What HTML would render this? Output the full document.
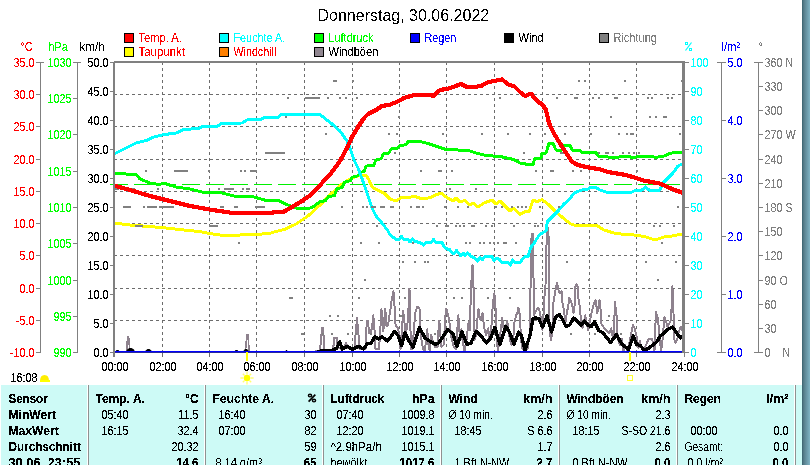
<!DOCTYPE html>
<html><head><meta charset="utf-8"><title>Wetter</title>
<style>
html,body{margin:0;padding:0;background:#fff;overflow:hidden}
body{width:810px;height:465px;font-family:'Liberation Sans', sans-serif}
svg{display:block;font-family:"Liberation Sans", sans-serif}
svg rect, svg line, svg polyline{shape-rendering:crispEdges}
</style></head><body>
<svg width="810" height="465" viewBox="0 0 810 465">
<rect x="0" y="0" width="810" height="465" fill="#ffffff"/>
<defs><clipPath id="plotclip"><rect x="113" y="60" width="572" height="293"/></clipPath><filter id="crisp" filterUnits="userSpaceOnUse" x="0" y="0" width="810" height="465" color-interpolation-filters="sRGB"><feComponentTransfer><feFuncA type="discrete" tableValues="0 0 1 1 1"/></feComponentTransfer></filter><filter id="crisp3" filterUnits="userSpaceOnUse" x="0" y="0" width="810" height="465" color-interpolation-filters="sRGB"><feComponentTransfer><feFuncA type="discrete" tableValues="0 0 0 0 0 0 0 0 0 1 1 1 1 1 1 1 1 1 1 1"/></feComponentTransfer></filter><filter id="crisp2" filterUnits="userSpaceOnUse" x="0" y="0" width="810" height="465" color-interpolation-filters="sRGB"><feComponentTransfer><feFuncA type="discrete" tableValues="0 0 1 1"/></feComponentTransfer></filter><linearGradient id="band" x1="0" x2="1" y1="0" y2="0"><stop offset="0" stop-color="#36606c"/><stop offset="0.14" stop-color="#4f7582"/><stop offset="0.4" stop-color="#608a98"/><stop offset="0.72" stop-color="#70a0b0"/><stop offset="1" stop-color="#80b4c4"/></linearGradient></defs>
<rect x="802" y="0" width="8" height="465" fill="url(#band)"/>
<rect x="124.5" y="33.5" width="9" height="9" fill="#ff0000" stroke="#000" stroke-width="1"/>
<rect x="219.5" y="33.5" width="9" height="9" fill="#00ffff" stroke="#000" stroke-width="1"/>
<rect x="314.5" y="33.5" width="9" height="9" fill="#00ff00" stroke="#000" stroke-width="1"/>
<rect x="410.5" y="33.5" width="9" height="9" fill="#0000ff" stroke="#000" stroke-width="1"/>
<rect x="504.5" y="33.5" width="9" height="9" fill="#000000" stroke="#000" stroke-width="1"/>
<rect x="599.5" y="33.5" width="9" height="9" fill="#808080" stroke="#000" stroke-width="1"/>
<rect x="124.5" y="47.5" width="9" height="9" fill="#ffff00" stroke="#000" stroke-width="1"/>
<rect x="219.5" y="47.5" width="9" height="9" fill="#ff8000" stroke="#000" stroke-width="1"/>
<rect x="314.5" y="47.5" width="9" height="9" fill="#908690" stroke="#000" stroke-width="1"/>
<rect x="40" y="62" width="1" height="291" fill="#808080"/>
<rect x="36" y="62" width="8" height="1" fill="#808080"/>
<rect x="36" y="62" width="4" height="1" fill="#808080"/>
<rect x="36" y="94" width="4" height="1" fill="#808080"/>
<rect x="36" y="126" width="4" height="1" fill="#808080"/>
<rect x="36" y="159" width="4" height="1" fill="#808080"/>
<rect x="36" y="191" width="4" height="1" fill="#808080"/>
<rect x="36" y="223" width="4" height="1" fill="#808080"/>
<rect x="36" y="255" width="4" height="1" fill="#808080"/>
<rect x="36" y="288" width="4" height="1" fill="#808080"/>
<rect x="36" y="320" width="4" height="1" fill="#808080"/>
<rect x="36" y="352" width="4" height="1" fill="#808080"/>
<rect x="77" y="62" width="1" height="291" fill="#808080"/>
<rect x="73" y="62" width="8" height="1" fill="#808080"/>
<rect x="73" y="62" width="4" height="1" fill="#808080"/>
<rect x="73" y="98" width="4" height="1" fill="#808080"/>
<rect x="73" y="134" width="4" height="1" fill="#808080"/>
<rect x="73" y="171" width="4" height="1" fill="#808080"/>
<rect x="73" y="207" width="4" height="1" fill="#808080"/>
<rect x="73" y="243" width="4" height="1" fill="#808080"/>
<rect x="73" y="280" width="4" height="1" fill="#808080"/>
<rect x="73" y="316" width="4" height="1" fill="#808080"/>
<rect x="73" y="352" width="4" height="1" fill="#808080"/>
<rect x="110" y="62" width="4" height="1" fill="#808080"/>
<rect x="110" y="91" width="4" height="1" fill="#808080"/>
<rect x="110" y="120" width="4" height="1" fill="#808080"/>
<rect x="110" y="149" width="4" height="1" fill="#808080"/>
<rect x="110" y="178" width="4" height="1" fill="#808080"/>
<rect x="110" y="207" width="4" height="1" fill="#808080"/>
<rect x="110" y="236" width="4" height="1" fill="#808080"/>
<rect x="110" y="265" width="4" height="1" fill="#808080"/>
<rect x="110" y="294" width="4" height="1" fill="#808080"/>
<rect x="110" y="323" width="4" height="1" fill="#808080"/>
<rect x="110" y="352" width="4" height="1" fill="#808080"/>
<line x1="162.5" y1="63" x2="162.5" y2="357" stroke="#6c6c6c" stroke-width="1" stroke-dasharray="3,3" stroke-dashoffset="1"/>
<line x1="209.5" y1="63" x2="209.5" y2="357" stroke="#6c6c6c" stroke-width="1" stroke-dasharray="3,3" stroke-dashoffset="1"/>
<line x1="256.5" y1="63" x2="256.5" y2="357" stroke="#6c6c6c" stroke-width="1" stroke-dasharray="3,3" stroke-dashoffset="1"/>
<line x1="304.5" y1="63" x2="304.5" y2="357" stroke="#6c6c6c" stroke-width="1" stroke-dasharray="3,3" stroke-dashoffset="1"/>
<line x1="352.5" y1="63" x2="352.5" y2="357" stroke="#6c6c6c" stroke-width="1" stroke-dasharray="3,3" stroke-dashoffset="1"/>
<line x1="399.5" y1="63" x2="399.5" y2="357" stroke="#6c6c6c" stroke-width="1" stroke-dasharray="3,3" stroke-dashoffset="1"/>
<line x1="446.5" y1="63" x2="446.5" y2="357" stroke="#6c6c6c" stroke-width="1" stroke-dasharray="3,3" stroke-dashoffset="1"/>
<line x1="494.5" y1="63" x2="494.5" y2="357" stroke="#6c6c6c" stroke-width="1" stroke-dasharray="3,3" stroke-dashoffset="1"/>
<line x1="542.5" y1="63" x2="542.5" y2="357" stroke="#6c6c6c" stroke-width="1" stroke-dasharray="3,3" stroke-dashoffset="1"/>
<line x1="589.5" y1="63" x2="589.5" y2="357" stroke="#6c6c6c" stroke-width="1" stroke-dasharray="3,3" stroke-dashoffset="1"/>
<line x1="636.5" y1="63" x2="636.5" y2="357" stroke="#6c6c6c" stroke-width="1" stroke-dasharray="3,3" stroke-dashoffset="1"/>
<line x1="114" y1="94.5" x2="682" y2="94.5" stroke="#6c6c6c" stroke-width="1" stroke-dasharray="3,3"/>
<line x1="114" y1="126.5" x2="682" y2="126.5" stroke="#6c6c6c" stroke-width="1" stroke-dasharray="3,3"/>
<line x1="114" y1="159.5" x2="682" y2="159.5" stroke="#6c6c6c" stroke-width="1" stroke-dasharray="3,3"/>
<line x1="114" y1="191.5" x2="682" y2="191.5" stroke="#6c6c6c" stroke-width="1" stroke-dasharray="3,3"/>
<line x1="114" y1="223.5" x2="682" y2="223.5" stroke="#6c6c6c" stroke-width="1" stroke-dasharray="3,3"/>
<line x1="114" y1="255.5" x2="682" y2="255.5" stroke="#6c6c6c" stroke-width="1" stroke-dasharray="3,3"/>
<line x1="114" y1="288.5" x2="682" y2="288.5" stroke="#6c6c6c" stroke-width="1" stroke-dasharray="3,3"/>
<line x1="114" y1="320.5" x2="682" y2="320.5" stroke="#6c6c6c" stroke-width="1" stroke-dasharray="3,3"/>
<line x1="110" y1="184.5" x2="682" y2="184.5" stroke="#00f000" stroke-width="1" stroke-dasharray="18,6"/>
<polyline clip-path="url(#plotclip)" points="126.5,351.0 127.0,345.0 127.7,337.0 128.6,337.0 129.3,345.0 130.0,351.0" fill="none" stroke="#8e828e" stroke-width="1.6" stroke-linejoin="miter"/>
<polyline clip-path="url(#plotclip)" points="245.5,351.0 246.0,344.0 247.0,334.5 248.0,334.5 248.6,344.0 249.3,351.0" fill="none" stroke="#8e828e" stroke-width="1.6" stroke-linejoin="miter"/>
<polyline clip-path="url(#plotclip)" points="315.0,351.0 320.0,350.5 321.0,340.0 322.0,327.6 323.0,327.6 323.8,340.0 324.4,350.5 331.0,350.0 333.3,349.0 334.0,337.5 337.0,337.5 337.6,348.0 342.0,349.0 344.0,347.0 346.0,343.0 348.0,348.0 352.0,349.0 354.5,349.0 355.5,335.0 357.0,318.2 358.5,335.0 359.5,349.0 363.0,349.0 365.5,349.0 366.8,321.0 368.0,321.0 369.0,333.0 370.5,333.0 372.0,328.0 373.3,315.4 374.5,330.0 375.5,349.0 379.0,349.0 380.0,335.0 381.4,309.3 382.5,320.0 383.3,331.0 384.3,320.0 385.3,308.5 386.4,325.5 388.0,325.5 389.0,318.0 390.3,311.0 391.5,301.0 393.5,291.4 394.8,309.8 395.6,325.5 398.2,327.7 399.5,340.0 400.5,349.0 401.5,335.0 403.2,310.7 404.6,324.0 406.0,335.0 407.0,325.0 408.0,321.0 408.8,300.0 409.4,288.8 410.2,300.0 410.7,349.0 412.5,349.0 413.5,335.0 414.7,320.0 415.5,312.0 417.2,307.0 419.0,307.5 420.0,311.0 420.5,327.7 421.5,340.0 423.0,349.0 425.0,351.0 426.0,340.0 427.2,329.4 428.5,345.0 429.7,351.0 431.0,334.6 433.0,342.0 435.0,347.0 437.5,347.0 438.5,330.0 439.3,320.5 440.3,335.0 441.5,347.0 443.5,345.0 444.6,330.0 445.5,315.0 446.3,308.5 447.3,312.0 448.5,316.6 450.0,326.6 451.5,338.0 453.5,346.0 456.0,349.0 457.0,335.0 458.3,315.4 459.3,330.0 460.0,338.0 461.4,328.9 462.5,340.0 464.5,351.0 466.5,340.0 468.6,322.0 469.8,330.0 470.6,302.0 471.5,280.0 472.5,264.6 473.4,285.0 474.2,302.0 474.6,340.0 476.0,335.0 477.3,320.0 478.5,309.3 479.5,316.0 480.5,320.0 481.6,316.0 482.6,313.4 483.5,322.0 484.3,327.7 486.0,335.0 488.2,328.3 489.5,338.0 491.0,335.0 492.0,315.0 493.3,300.0 494.4,293.3 495.3,305.0 496.0,315.0 496.8,340.0 498.0,351.0 499.5,340.0 501.0,328.0 502.2,317.5 503.5,328.0 505.0,332.0 506.0,326.0 507.2,320.5 508.5,330.0 510.0,340.0 511.5,345.0 513.5,335.0 514.5,322.0 516.0,316.0 517.5,312.0 518.4,307.6 519.3,312.0 520.0,316.6 521.0,340.0 522.5,349.0 525.0,351.0 527.5,349.0 529.5,335.0 530.3,300.0 531.2,250.0 531.6,234.0 533.0,234.0 533.4,250.0 533.6,300.0 534.0,315.0 536.5,310.0 538.0,307.6 540.0,312.0 541.3,322.0 542.4,330.0 543.3,320.0 544.1,300.0 545.5,285.0 546.2,256.0 547.0,228.0 548.4,228.0 548.8,256.0 549.0,318.8 550.8,340.0 552.0,335.0 553.5,302.0 555.5,289.7 557.0,283.0 559.0,292.0 560.5,293.0 561.5,291.4 562.6,304.0 564.0,310.0 565.0,320.0 566.0,321.0 567.0,310.0 568.0,308.7 569.3,298.0 572.0,304.0 573.5,313.0 574.6,305.0 575.2,287.0 576.5,284.5 577.8,287.0 578.3,298.0 579.5,305.0 581.0,320.0 582.5,327.7 584.0,322.0 585.2,315.4 586.5,322.0 588.0,330.0 590.0,320.0 592.0,311.0 594.0,303.0 595.6,300.3 597.3,313.0 599.5,300.3 601.0,313.0 601.5,324.4 605.0,329.0 609.0,333.3 610.0,332.0 611.2,328.3 612.3,335.0 613.5,338.0 614.3,320.0 615.1,302.2 616.0,312.0 617.0,318.8 617.7,339.0 620.0,345.0 622.0,339.0 623.5,351.0 625.0,345.0 627.4,351.0 629.0,345.0 630.5,337.0 632.0,329.0 633.0,325.3 634.5,327.7 636.5,336.0 637.5,344.0 638.5,348.0 639.7,341.0 641.0,346.0 643.0,351.0 646.0,345.0 648.7,338.5 652.0,338.5 653.5,345.0 654.5,351.0 655.2,330.0 656.0,312.3 657.0,316.0 658.0,318.8 659.5,336.0 661.0,351.0 662.0,345.0 663.0,335.0 664.4,317.1 666.0,321.0 667.5,326.6 669.5,323.0 671.0,320.0 671.8,303.0 672.4,286.4 673.0,300.0 673.5,313.0 674.0,338.0 675.5,343.0 677.0,340.0 678.5,333.0 680.6,326.6 682.0,330.0 683.0,328.0" fill="none" stroke="#8e828e" stroke-width="2" stroke-linejoin="round"/>
<polyline clip-path="url(#plotclip)" points="114.0,223.0 130.0,225.0 150.0,226.6 162.0,227.6 180.0,229.6 200.0,231.6 210.0,233.6 220.0,235.0 240.0,235.0 250.0,234.6 270.0,233.6 272.0,232.5 284.0,229.6 296.0,224.0 308.0,216.0 320.0,205.0 332.0,193.0 342.0,184.0 350.0,179.0 360.0,175.0 366.0,175.0 369.0,180.0 372.0,187.0 378.0,190.4 384.0,193.0 390.0,199.0 396.0,201.0 402.0,197.0 408.0,198.0 414.0,196.0 422.0,199.0 430.0,197.6 434.0,195.6 441.0,193.0 446.0,197.0 453.0,201.0 456.0,198.0 460.0,202.0 465.0,200.4 470.0,205.0 473.0,203.0 478.0,207.0 484.0,203.0 492.0,200.0 496.0,204.0 500.0,201.0 510.0,211.0 513.0,208.0 520.0,214.4 526.0,211.0 529.0,212.0 533.0,200.0 537.0,201.6 542.0,199.6 548.0,204.0 554.0,210.0 562.0,217.0 570.0,223.6 574.0,225.0 596.0,225.0 604.0,230.0 616.0,233.6 634.0,235.0 644.0,236.4 652.0,239.0 658.0,239.0 664.0,237.0 672.0,236.0 680.0,234.4 683.0,235.4" fill="none" stroke="#ffff00" stroke-width="3" stroke-linejoin="round"/>
<polyline clip-path="url(#plotclip)" points="114.0,173.4 136.0,174.5 140.0,179.0 150.0,183.0 158.0,184.4 165.0,183.6 176.0,187.0 190.0,189.0 202.0,192.0 222.0,193.0 234.0,196.0 254.0,197.0 266.0,200.4 278.0,200.0 282.0,202.4 288.0,205.0 296.0,208.0 310.0,208.0 314.0,206.4 319.4,202.0 325.6,200.5 328.4,196.4 334.6,195.7 336.6,188.8 342.1,187.5 344.9,182.0 350.4,180.6 352.5,177.1 358.0,175.8 360.0,172.3 364.1,171.6 366.2,166.1 373.8,165.4 375.8,160.0 381.3,158.6 383.4,153.8 388.9,153.0 391.0,149.0 397.2,148.3 399.9,145.5 406.1,144.8 408.2,141.6 420.0,141.6 428.0,143.4 434.0,145.5 446.0,149.5 468.0,150.4 474.0,152.4 486.0,155.6 500.0,156.4 514.0,159.6 520.0,163.0 525.0,163.0 526.0,164.5 533.0,164.5 535.0,158.0 541.0,158.0 542.0,153.0 546.0,153.0 549.0,143.5 553.0,143.5 556.0,150.0 562.0,150.0 563.6,145.3 570.0,145.3 572.0,150.0 579.4,150.0 581.4,152.0 595.7,152.0 598.0,156.0 608.0,157.0 618.0,157.4 622.0,156.0 628.0,156.0 632.0,157.6 636.0,157.0 642.0,156.0 652.0,156.6 656.0,157.4 664.0,156.0 670.0,153.4 676.0,152.4 683.0,152.0" fill="none" stroke="#00ff00" stroke-width="3" stroke-linejoin="round"/>
<polyline clip-path="url(#plotclip)" points="114.0,154.0 118.0,152.0 122.0,150.0 128.0,147.0 136.0,143.0 146.0,140.6 154.0,137.0 164.0,134.6 176.0,133.0 184.0,129.4 198.0,128.6 202.0,126.6 218.0,126.0 221.0,123.6 242.0,123.0 247.0,120.0 260.0,119.6 264.0,117.6 278.0,117.6 281.0,114.6 320.0,114.6 332.0,124.0 340.0,131.0 347.0,141.0 350.0,148.0 354.0,160.0 358.0,168.0 364.0,184.0 368.0,196.0 372.0,208.0 376.0,216.0 382.0,223.0 385.0,227.0 388.0,231.0 390.0,235.0 393.0,237.0 396.0,239.5 399.0,239.5 401.5,236.5 403.5,239.0 408.0,239.5 410.0,242.0 412.5,239.0 415.0,241.5 420.0,242.5 423.5,245.0 426.0,242.5 431.0,242.5 433.5,239.5 436.0,242.5 442.0,242.5 444.5,247.0 447.0,249.0 449.0,249.0 451.5,252.0 454.0,254.0 456.5,250.5 459.0,253.5 461.0,256.0 463.0,253.0 465.0,255.5 467.5,253.0 469.0,254.0 471.0,256.5 471.0,256.5 474.0,257.5 476.0,259.0 477.5,261.0 480.0,257.0 482.0,260.0 485.0,256.5 492.0,256.5 494.0,261.0 496.0,258.5 499.0,259.0 502.0,262.5 508.0,262.5 510.5,265.0 512.5,260.0 515.0,262.5 520.0,262.5 522.0,260.0 524.0,257.0 528.0,256.5 530.0,250.0 532.0,245.5 534.0,243.5 536.0,240.0 538.0,237.0 540.0,234.5 543.0,232.5 546.0,231.0 547.4,221.5 551.0,218.0 558.5,210.5 564.0,204.0 569.6,199.3 574.3,192.8 579.0,191.0 582.0,190.0 588.0,189.0 591.0,187.0 596.0,187.6 600.0,190.0 606.0,192.0 632.0,192.0 636.0,190.0 642.0,190.0 645.6,187.0 649.0,190.0 660.0,190.0 663.0,183.0 668.0,178.0 673.0,173.0 678.0,166.0 682.0,164.0" fill="none" stroke="#00ffff" stroke-width="3" stroke-linejoin="round"/>
<rect x="333" y="80" width="4" height="2" fill="#808080"/>
<rect x="352" y="80" width="2" height="2" fill="#808080"/>
<rect x="578" y="80" width="2" height="2" fill="#808080"/>
<rect x="584" y="80" width="2" height="2" fill="#808080"/>
<rect x="624" y="80" width="2" height="2" fill="#808080"/>
<rect x="681" y="80" width="2" height="2" fill="#808080"/>
<rect x="287" y="97" width="2" height="2" fill="#808080"/>
<rect x="305" y="97" width="15" height="2" fill="#808080"/>
<rect x="327" y="97" width="2" height="2" fill="#808080"/>
<rect x="339" y="97" width="2" height="2" fill="#808080"/>
<rect x="345" y="97" width="2" height="2" fill="#808080"/>
<rect x="356" y="97" width="2" height="2" fill="#808080"/>
<rect x="499" y="97" width="2" height="2" fill="#808080"/>
<rect x="556" y="97" width="2" height="2" fill="#808080"/>
<rect x="574" y="97" width="4" height="2" fill="#808080"/>
<rect x="592" y="97" width="2" height="2" fill="#808080"/>
<rect x="598" y="97" width="2" height="2" fill="#808080"/>
<rect x="614" y="97" width="4" height="2" fill="#808080"/>
<rect x="647" y="97" width="2" height="2" fill="#808080"/>
<rect x="651" y="97" width="2" height="2" fill="#808080"/>
<rect x="667" y="97" width="2" height="2" fill="#808080"/>
<rect x="671" y="97" width="2" height="2" fill="#808080"/>
<rect x="285" y="116" width="2" height="2" fill="#808080"/>
<rect x="398" y="116" width="2" height="2" fill="#808080"/>
<rect x="610" y="116" width="2" height="2" fill="#808080"/>
<rect x="649" y="116" width="2" height="2" fill="#808080"/>
<rect x="655" y="116" width="2" height="2" fill="#808080"/>
<rect x="663" y="116" width="4" height="2" fill="#808080"/>
<rect x="325" y="133" width="2" height="2" fill="#808080"/>
<rect x="388" y="133" width="2" height="2" fill="#808080"/>
<rect x="396" y="133" width="2" height="2" fill="#808080"/>
<rect x="442" y="133" width="2" height="2" fill="#808080"/>
<rect x="481" y="133" width="2" height="2" fill="#808080"/>
<rect x="507" y="133" width="2" height="2" fill="#808080"/>
<rect x="529" y="133" width="2" height="2" fill="#808080"/>
<rect x="544" y="133" width="2" height="2" fill="#808080"/>
<rect x="564" y="133" width="2" height="2" fill="#808080"/>
<rect x="590" y="133" width="2" height="2" fill="#808080"/>
<rect x="618" y="133" width="2" height="2" fill="#808080"/>
<rect x="626" y="133" width="2" height="2" fill="#808080"/>
<rect x="630" y="133" width="4" height="2" fill="#808080"/>
<rect x="679" y="133" width="2" height="2" fill="#808080"/>
<rect x="265" y="152" width="20" height="2" fill="#808080"/>
<rect x="394" y="152" width="2" height="2" fill="#808080"/>
<rect x="523" y="152" width="2" height="2" fill="#808080"/>
<rect x="560" y="152" width="4" height="2" fill="#808080"/>
<rect x="598" y="152" width="2" height="2" fill="#808080"/>
<rect x="605" y="152" width="4" height="2" fill="#808080"/>
<rect x="612" y="152" width="2" height="2" fill="#808080"/>
<rect x="622" y="152" width="2" height="2" fill="#808080"/>
<rect x="628" y="152" width="2" height="2" fill="#808080"/>
<rect x="633" y="152" width="2" height="2" fill="#808080"/>
<rect x="638" y="152" width="2" height="2" fill="#808080"/>
<rect x="145" y="170" width="2" height="2" fill="#808080"/>
<rect x="174" y="170" width="14" height="2" fill="#808080"/>
<rect x="208" y="170" width="2" height="2" fill="#808080"/>
<rect x="240" y="170" width="2" height="2" fill="#808080"/>
<rect x="244" y="170" width="2" height="2" fill="#808080"/>
<rect x="250" y="170" width="7" height="2" fill="#808080"/>
<rect x="420" y="170" width="2" height="2" fill="#808080"/>
<rect x="438" y="170" width="4" height="2" fill="#808080"/>
<rect x="451" y="170" width="2" height="2" fill="#808080"/>
<rect x="535" y="170" width="2" height="2" fill="#808080"/>
<rect x="550" y="170" width="4" height="2" fill="#808080"/>
<rect x="572" y="170" width="2" height="2" fill="#808080"/>
<rect x="580" y="170" width="2" height="2" fill="#808080"/>
<rect x="636" y="170" width="2" height="2" fill="#808080"/>
<rect x="115" y="188" width="4" height="2" fill="#808080"/>
<rect x="131" y="188" width="4" height="2" fill="#808080"/>
<rect x="157" y="188" width="2" height="2" fill="#808080"/>
<rect x="218" y="188" width="2" height="2" fill="#808080"/>
<rect x="224" y="188" width="10" height="2" fill="#808080"/>
<rect x="242" y="188" width="2" height="2" fill="#808080"/>
<rect x="246" y="188" width="4" height="2" fill="#808080"/>
<rect x="449" y="188" width="2" height="2" fill="#808080"/>
<rect x="475" y="188" width="2" height="2" fill="#808080"/>
<rect x="123" y="206" width="8" height="2" fill="#808080"/>
<rect x="143" y="206" width="2" height="2" fill="#808080"/>
<rect x="147" y="206" width="10" height="2" fill="#808080"/>
<rect x="159" y="206" width="15" height="2" fill="#808080"/>
<rect x="220" y="206" width="4" height="2" fill="#808080"/>
<rect x="234" y="206" width="4" height="2" fill="#808080"/>
<rect x="255" y="206" width="10" height="2" fill="#808080"/>
<rect x="341" y="206" width="2" height="2" fill="#808080"/>
<rect x="362" y="206" width="2" height="2" fill="#808080"/>
<rect x="366" y="206" width="2" height="2" fill="#808080"/>
<rect x="371" y="206" width="5" height="2" fill="#808080"/>
<rect x="380" y="206" width="5" height="2" fill="#808080"/>
<rect x="390" y="206" width="4" height="2" fill="#808080"/>
<rect x="410" y="206" width="2" height="2" fill="#808080"/>
<rect x="416" y="206" width="4" height="2" fill="#808080"/>
<rect x="422" y="206" width="2" height="2" fill="#808080"/>
<rect x="444" y="206" width="2" height="2" fill="#808080"/>
<rect x="457" y="206" width="2" height="2" fill="#808080"/>
<rect x="467" y="206" width="2" height="2" fill="#808080"/>
<rect x="495" y="206" width="2" height="2" fill="#808080"/>
<rect x="501" y="206" width="2" height="2" fill="#808080"/>
<rect x="511" y="206" width="2" height="2" fill="#808080"/>
<rect x="517" y="206" width="2" height="2" fill="#808080"/>
<rect x="521" y="206" width="2" height="2" fill="#808080"/>
<rect x="525" y="206" width="2" height="2" fill="#808080"/>
<rect x="539" y="206" width="2" height="2" fill="#808080"/>
<rect x="558" y="206" width="2" height="2" fill="#808080"/>
<rect x="677" y="206" width="2" height="2" fill="#808080"/>
<rect x="135" y="225" width="8" height="2" fill="#808080"/>
<rect x="209" y="225" width="9" height="2" fill="#808080"/>
<rect x="376" y="225" width="2" height="2" fill="#808080"/>
<rect x="436" y="225" width="2" height="2" fill="#808080"/>
<rect x="445" y="225" width="4" height="2" fill="#808080"/>
<rect x="455" y="225" width="2" height="2" fill="#808080"/>
<rect x="459" y="225" width="2" height="2" fill="#808080"/>
<rect x="463" y="225" width="2" height="2" fill="#808080"/>
<rect x="471" y="225" width="4" height="2" fill="#808080"/>
<rect x="485" y="225" width="2" height="2" fill="#808080"/>
<rect x="491" y="225" width="2" height="2" fill="#808080"/>
<rect x="513" y="225" width="2" height="2" fill="#808080"/>
<rect x="534" y="225" width="2" height="2" fill="#808080"/>
<rect x="537" y="225" width="2" height="2" fill="#808080"/>
<rect x="653" y="225" width="2" height="2" fill="#808080"/>
<rect x="659" y="225" width="2" height="2" fill="#808080"/>
<rect x="673" y="225" width="2" height="2" fill="#808080"/>
<rect x="238" y="242" width="2" height="2" fill="#808080"/>
<rect x="360" y="242" width="2" height="2" fill="#808080"/>
<rect x="378" y="242" width="2" height="2" fill="#808080"/>
<rect x="412" y="242" width="2" height="2" fill="#808080"/>
<rect x="465" y="242" width="2" height="2" fill="#808080"/>
<rect x="469" y="242" width="2" height="2" fill="#808080"/>
<rect x="479" y="242" width="2" height="2" fill="#808080"/>
<rect x="483" y="242" width="2" height="2" fill="#808080"/>
<rect x="489" y="242" width="2" height="2" fill="#808080"/>
<rect x="493" y="242" width="2" height="2" fill="#808080"/>
<rect x="497" y="242" width="2" height="2" fill="#808080"/>
<rect x="503" y="242" width="4" height="2" fill="#808080"/>
<rect x="515" y="242" width="2" height="2" fill="#808080"/>
<rect x="541" y="242" width="2" height="2" fill="#808080"/>
<rect x="661" y="242" width="2" height="2" fill="#808080"/>
<rect x="402" y="261" width="2" height="2" fill="#808080"/>
<rect x="414" y="261" width="2" height="2" fill="#808080"/>
<rect x="424" y="261" width="2" height="2" fill="#808080"/>
<rect x="427" y="261" width="2" height="2" fill="#808080"/>
<rect x="566" y="261" width="2" height="2" fill="#808080"/>
<rect x="645" y="261" width="2" height="2" fill="#808080"/>
<rect x="675" y="261" width="2" height="2" fill="#808080"/>
<rect x="364" y="279" width="2" height="2" fill="#808080"/>
<rect x="588" y="279" width="2" height="2" fill="#808080"/>
<rect x="657" y="279" width="2" height="2" fill="#808080"/>
<rect x="289" y="297" width="4" height="2" fill="#808080"/>
<rect x="358" y="297" width="2" height="2" fill="#808080"/>
<rect x="404" y="297" width="2" height="2" fill="#808080"/>
<rect x="453" y="297" width="2" height="2" fill="#808080"/>
<rect x="461" y="297" width="2" height="2" fill="#808080"/>
<rect x="487" y="297" width="2" height="2" fill="#808080"/>
<rect x="509" y="297" width="2" height="2" fill="#808080"/>
<rect x="329" y="315" width="2" height="2" fill="#808080"/>
<rect x="337" y="315" width="2" height="2" fill="#808080"/>
<rect x="400" y="315" width="4" height="2" fill="#808080"/>
<rect x="608" y="315" width="2" height="2" fill="#808080"/>
<rect x="301" y="333" width="3" height="2" fill="#808080"/>
<rect x="322" y="333" width="2" height="2" fill="#808080"/>
<rect x="331" y="333" width="2" height="2" fill="#808080"/>
<rect x="347" y="333" width="2" height="2" fill="#808080"/>
<rect x="355" y="333" width="2" height="2" fill="#808080"/>
<rect x="370" y="333" width="2" height="2" fill="#808080"/>
<rect x="434" y="333" width="2" height="2" fill="#808080"/>
<rect x="570" y="333" width="2" height="2" fill="#808080"/>
<rect x="594" y="333" width="2" height="2" fill="#808080"/>
<rect x="620" y="333" width="2" height="2" fill="#808080"/>
<polyline clip-path="url(#plotclip)" points="114.0,185.5 130.0,190.0 150.0,196.0 170.0,201.0 190.0,206.0 210.0,209.6 230.0,212.6 272.0,212.6 284.0,211.6 292.0,207.0 302.0,201.0 312.0,194.0 322.0,183.0 332.0,172.0 340.0,161.0 347.0,148.0 352.0,137.0 358.0,127.0 364.0,118.0 368.0,114.0 376.0,110.0 382.0,106.0 390.0,104.6 398.0,101.4 404.0,98.0 412.0,95.6 416.0,95.0 434.0,95.5 440.0,90.0 448.0,88.6 454.0,86.6 461.0,84.0 468.0,87.4 474.0,87.0 481.0,86.0 487.0,82.6 494.0,81.0 502.0,79.4 509.0,85.0 514.0,86.0 520.0,92.0 525.0,96.0 531.0,93.6 538.0,102.0 542.0,104.0 546.0,110.0 549.0,123.0 553.7,133.0 559.6,142.8 564.6,150.7 568.5,156.7 571.5,161.0 575.4,164.0 581.4,166.0 589.3,167.6 600.0,169.3 608.0,172.0 626.0,175.0 636.0,178.0 644.0,180.6 660.0,183.6 672.0,189.0 683.0,193.0" fill="none" stroke="#ff0000" stroke-width="4.2" stroke-linejoin="round"/>
<polyline clip-path="url(#plotclip)" points="315.0,352.4 320.0,352.0 321.5,350.3 332.0,350.2 336.5,348.5 339.7,341.8 342.3,349.0 347.4,346.3 352.6,349.5 358.4,346.3 363.5,349.0 367.4,343.7 370.6,343.7 375.0,336.6 378.4,339.0 382.0,337.0 387.4,341.0 390.6,337.0 394.5,331.5 398.4,336.0 401.6,345.7 405.0,332.7 409.0,341.0 413.0,347.0 419.4,327.5 425.0,338.0 434.8,344.3 438.7,343.0 447.7,329.5 453.0,334.0 456.8,346.3 462.0,332.0 467.0,344.3 471.0,343.0 476.0,331.4 480.6,335.3 486.5,343.0 490.3,339.0 494.8,327.5 500.0,344.3 505.8,326.3 509.7,332.7 514.0,344.3 518.7,332.0 521.3,335.3 525.0,350.0 529.7,336.6 533.0,319.0 535.5,317.9 538.7,318.5 542.6,327.0 547.0,316.0 551.6,332.0 555.5,317.0 559.4,314.6 562.0,318.5 565.8,326.3 569.7,325.0 573.5,318.0 577.4,321.0 581.3,325.0 584.5,321.0 588.4,325.6 591.6,326.3 594.5,321.7 599.0,330.8 603.0,332.7 606.8,337.9 610.6,342.4 616.5,334.6 620.3,341.7 623.5,345.6 628.7,349.5 633.2,336.0 636.5,344.3 640.3,345.6 644.2,350.0 648.0,348.8 654.5,343.7 657.0,341.7 660.3,336.0 664.2,332.7 667.4,329.5 672.6,327.0 676.5,332.7 680.3,337.9 683.0,336.0" fill="none" stroke="#000000" stroke-width="3.4" stroke-linejoin="round" stroke-linecap="round"/>
<path d="M115,352 L116,350.8 L116.5,350 L118.5,350 L119,350.8 L120,352 Z" fill="#000"/>
<path d="M126,352 L127,349.6 L129.5,348 L131.5,348 L134,349.6 L135,352 Z" fill="#000"/>
<path d="M145,352 L146,350.2 L147.5,349 L149.5,349 L151,350.2 L152,352 Z" fill="#000"/>
<path d="M234,352 L235,350.8 L235.5,350 L237.5,350 L238,350.8 L239,352 Z" fill="#000"/>
<path d="M243,352 L244,350.2 L245.0,349 L247.0,349 L248,350.2 L249,352 Z" fill="#000"/>
<path d="M285,352 L286,350.8 L285.5,350 L287.5,350 L287,350.8 L288,352 Z" fill="#000"/>
<rect x="114" y="61" width="571" height="2" fill="#808080"/>
<rect x="113" y="62" width="2" height="295" fill="#808080"/>
<rect x="682" y="61" width="3" height="292" fill="#808080"/>
<rect x="110" y="352" width="575" height="1" fill="#808080"/>
<rect x="115" y="351" width="567" height="1" fill="#0000ff"/>
<rect x="115" y="352" width="567" height="1" fill="#28289c"/>
<rect x="162" y="353" width="1" height="4" fill="#6c6c6c"/>
<rect x="209" y="353" width="1" height="4" fill="#6c6c6c"/>
<rect x="256" y="353" width="1" height="4" fill="#6c6c6c"/>
<rect x="304" y="353" width="1" height="4" fill="#6c6c6c"/>
<rect x="352" y="353" width="1" height="4" fill="#6c6c6c"/>
<rect x="399" y="353" width="1" height="4" fill="#6c6c6c"/>
<rect x="446" y="353" width="1" height="4" fill="#6c6c6c"/>
<rect x="494" y="353" width="1" height="4" fill="#6c6c6c"/>
<rect x="542" y="353" width="1" height="4" fill="#6c6c6c"/>
<rect x="589" y="353" width="1" height="4" fill="#6c6c6c"/>
<rect x="636" y="353" width="1" height="4" fill="#6c6c6c"/>
<rect x="246" y="352" width="2" height="9" fill="#ffff00"/>
<rect x="629" y="352" width="2" height="9" fill="#ffff00"/>
<rect x="684" y="353" width="1" height="4" fill="#808080"/>
<rect x="685" y="62" width="4" height="1" fill="#808080"/>
<rect x="685" y="91" width="4" height="1" fill="#808080"/>
<rect x="685" y="120" width="4" height="1" fill="#808080"/>
<rect x="685" y="149" width="4" height="1" fill="#808080"/>
<rect x="685" y="178" width="4" height="1" fill="#808080"/>
<rect x="685" y="207" width="4" height="1" fill="#808080"/>
<rect x="685" y="236" width="4" height="1" fill="#808080"/>
<rect x="685" y="265" width="4" height="1" fill="#808080"/>
<rect x="685" y="294" width="4" height="1" fill="#808080"/>
<rect x="685" y="323" width="4" height="1" fill="#808080"/>
<rect x="685" y="352" width="4" height="1" fill="#808080"/>
<g fill="none" stroke="#00ffff" stroke-width="1" shape-rendering="crispEdges"><rect x="685.5" y="42.5" width="2" height="2"/><rect x="689.5" y="48.5" width="2" height="2"/></g><path d="M691.5,42.5 L685.5,50.5" stroke="#00ffff" stroke-width="1.2" fill="none"/>
<rect x="721" y="62" width="1" height="291" fill="#808080"/>
<rect x="717" y="62" width="9" height="1" fill="#808080"/>
<rect x="721" y="62" width="5" height="1" fill="#808080"/>
<rect x="721" y="120" width="5" height="1" fill="#808080"/>
<rect x="721" y="178" width="5" height="1" fill="#808080"/>
<rect x="721" y="236" width="5" height="1" fill="#808080"/>
<rect x="721" y="294" width="5" height="1" fill="#808080"/>
<rect x="721" y="352" width="5" height="1" fill="#808080"/>
<rect x="758" y="62" width="1" height="291" fill="#808080"/>
<rect x="754" y="62" width="9" height="1" fill="#808080"/>
<rect x="758" y="62" width="5" height="1" fill="#808080"/>
<rect x="758" y="86" width="5" height="1" fill="#808080"/>
<rect x="758" y="110" width="5" height="1" fill="#808080"/>
<rect x="758" y="134" width="5" height="1" fill="#808080"/>
<rect x="758" y="159" width="5" height="1" fill="#808080"/>
<rect x="758" y="183" width="5" height="1" fill="#808080"/>
<rect x="758" y="207" width="5" height="1" fill="#808080"/>
<rect x="758" y="231" width="5" height="1" fill="#808080"/>
<rect x="758" y="255" width="5" height="1" fill="#808080"/>
<rect x="758" y="280" width="5" height="1" fill="#808080"/>
<rect x="758" y="304" width="5" height="1" fill="#808080"/>
<rect x="758" y="328" width="5" height="1" fill="#808080"/>
<rect x="758" y="352" width="5" height="1" fill="#808080"/>
<rect x="754" y="352" width="9" height="1" fill="#808080"/>
<rect x="717" y="352" width="9" height="1" fill="#808080"/>
<path d="M250.5,378.0L253.6,378.0M249.5,380.5L251.2,382.2M247.0,381.5L247.0,384.6M244.5,380.5L242.8,382.2M243.5,378.0L240.4,378.0M244.5,375.5L242.8,373.8M247.0,374.5L247.0,371.4M249.5,375.5L251.2,373.8" stroke="#ffff70" stroke-width="1.3" fill="none"/><circle cx="247" cy="378" r="3.2" fill="#ffff00"/>
<rect x="627.5" y="375.5" width="5" height="5" fill="none" stroke="#ffff30" stroke-width="1"/>
<path d="M40,381 Q40,375 44.5,375 Q49,375 49,381 Z" fill="#ffee00"/><rect x="40" y="380" width="10" height="1.5" fill="#ffff00"/>
<rect x="1" y="385" width="801" height="80" fill="#cdfaf6"/>
<rect x="88" y="385" width="1" height="80" fill="#909090"/>
<rect x="87" y="385" width="1" height="80" fill="#ffffff"/>
<rect x="205" y="385" width="1" height="80" fill="#909090"/>
<rect x="204" y="385" width="1" height="80" fill="#ffffff"/>
<rect x="323" y="385" width="1" height="80" fill="#909090"/>
<rect x="322" y="385" width="1" height="80" fill="#ffffff"/>
<rect x="441" y="385" width="1" height="80" fill="#909090"/>
<rect x="440" y="385" width="1" height="80" fill="#ffffff"/>
<rect x="559" y="385" width="1" height="80" fill="#909090"/>
<rect x="558" y="385" width="1" height="80" fill="#ffffff"/>
<rect x="677" y="385" width="1" height="80" fill="#909090"/>
<rect x="676" y="385" width="1" height="80" fill="#ffffff"/>
<rect x="795" y="385" width="1" height="80" fill="#909090"/>
<rect x="794" y="385" width="1" height="80" fill="#ffffff"/>
<g fill="none" stroke="#000" stroke-width="1.4"><ellipse cx="310" cy="395.6" rx="1.6" ry="1.3"/><ellipse cx="314" cy="400.6" rx="1.6" ry="1.3"/><path d="M315.3,394.6 L308.6,401.6" stroke-width="1.7"/></g>
<g filter="url(#crisp)"><text transform="translate(34.45,67) scale(0.8633,1)" font-size="12.5" fill="#ff0000" text-anchor="end">35.0</text>
<text transform="translate(34.45,99) scale(0.8633,1)" font-size="12.5" fill="#ff0000" text-anchor="end">30.0</text>
<text transform="translate(34.45,131) scale(0.8633,1)" font-size="12.5" fill="#ff0000" text-anchor="end">25.0</text>
<text transform="translate(34.45,164) scale(0.8633,1)" font-size="12.5" fill="#ff0000" text-anchor="end">20.0</text>
<text transform="translate(34.45,196) scale(0.8633,1)" font-size="12.5" fill="#ff0000" text-anchor="end">15.0</text>
<text transform="translate(34.45,228) scale(0.8633,1)" font-size="12.5" fill="#ff0000" text-anchor="end">10.0</text>
<text transform="translate(34.45,260) scale(0.8633,1)" font-size="12.5" fill="#ff0000" text-anchor="end">5.0</text>
<text transform="translate(34.45,293) scale(0.8633,1)" font-size="12.5" fill="#ff0000" text-anchor="end">0.0</text>
<text transform="translate(34.45,325) scale(0.8633,1)" font-size="12.5" fill="#ff0000" text-anchor="end">-5.0</text>
<text transform="translate(34.45,357) scale(0.8633,1)" font-size="12.5" fill="#ff0000" text-anchor="end">-10.0</text>
<text transform="translate(71.45,67) scale(0.8633,1)" font-size="12.5" fill="#00ff00" text-anchor="end">1030</text>
<text transform="translate(71.45,103) scale(0.8633,1)" font-size="12.5" fill="#00ff00" text-anchor="end">1025</text>
<text transform="translate(71.45,139) scale(0.8633,1)" font-size="12.5" fill="#00ff00" text-anchor="end">1020</text>
<text transform="translate(71.45,176) scale(0.8633,1)" font-size="12.5" fill="#00ff00" text-anchor="end">1015</text>
<text transform="translate(71.45,212) scale(0.8633,1)" font-size="12.5" fill="#00ff00" text-anchor="end">1010</text>
<text transform="translate(71.45,248) scale(0.8633,1)" font-size="12.5" fill="#00ff00" text-anchor="end">1005</text>
<text transform="translate(71.45,285) scale(0.8633,1)" font-size="12.5" fill="#00ff00" text-anchor="end">1000</text>
<text transform="translate(71.45,321) scale(0.8633,1)" font-size="12.5" fill="#00ff00" text-anchor="end">995</text>
<text transform="translate(71.45,357) scale(0.8633,1)" font-size="12.5" fill="#00ff00" text-anchor="end">990</text>
<text transform="translate(108.45,67) scale(0.8633,1)" font-size="12.5" fill="#000" text-anchor="end">50.0</text>
<text transform="translate(108.45,96) scale(0.8633,1)" font-size="12.5" fill="#000" text-anchor="end">45.0</text>
<text transform="translate(108.45,125) scale(0.8633,1)" font-size="12.5" fill="#000" text-anchor="end">40.0</text>
<text transform="translate(108.45,154) scale(0.8633,1)" font-size="12.5" fill="#000" text-anchor="end">35.0</text>
<text transform="translate(108.45,183) scale(0.8633,1)" font-size="12.5" fill="#000" text-anchor="end">30.0</text>
<text transform="translate(108.45,212) scale(0.8633,1)" font-size="12.5" fill="#000" text-anchor="end">25.0</text>
<text transform="translate(108.45,241) scale(0.8633,1)" font-size="12.5" fill="#000" text-anchor="end">20.0</text>
<text transform="translate(108.45,270) scale(0.8633,1)" font-size="12.5" fill="#000" text-anchor="end">15.0</text>
<text transform="translate(108.45,299) scale(0.8633,1)" font-size="12.5" fill="#000" text-anchor="end">10.0</text>
<text transform="translate(108.45,328) scale(0.8633,1)" font-size="12.5" fill="#000" text-anchor="end">5.0</text>
<text transform="translate(108.45,357) scale(0.8633,1)" font-size="12.5" fill="#000" text-anchor="end">0.0</text>
<text transform="translate(101.45,371) scale(0.8633,1)" font-size="12.5" fill="#000" text-anchor="start">00:00</text>
<text transform="translate(149.45,371) scale(0.8633,1)" font-size="12.5" fill="#000" text-anchor="start">02:00</text>
<text transform="translate(196.45,371) scale(0.8633,1)" font-size="12.5" fill="#000" text-anchor="start">04:00</text>
<text transform="translate(243.45,371) scale(0.8633,1)" font-size="12.5" fill="#000" text-anchor="start">06:00</text>
<text transform="translate(291.45,371) scale(0.8633,1)" font-size="12.5" fill="#000" text-anchor="start">08:00</text>
<text transform="translate(339.45,371) scale(0.8633,1)" font-size="12.5" fill="#000" text-anchor="start">10:00</text>
<text transform="translate(386.45,371) scale(0.8633,1)" font-size="12.5" fill="#000" text-anchor="start">12:00</text>
<text transform="translate(433.45,371) scale(0.8633,1)" font-size="12.5" fill="#000" text-anchor="start">14:00</text>
<text transform="translate(481.45,371) scale(0.8633,1)" font-size="12.5" fill="#000" text-anchor="start">16:00</text>
<text transform="translate(529.45,371) scale(0.8633,1)" font-size="12.5" fill="#000" text-anchor="start">18:00</text>
<text transform="translate(576.45,371) scale(0.8633,1)" font-size="12.5" fill="#000" text-anchor="start">20:00</text>
<text transform="translate(623.45,371) scale(0.8633,1)" font-size="12.5" fill="#000" text-anchor="start">22:00</text>
<text transform="translate(671.45,371) scale(0.8633,1)" font-size="12.5" fill="#000" text-anchor="start">24:00</text>
<text transform="translate(690.45,67) scale(0.8633,1)" font-size="12.5" fill="#00ffff" text-anchor="start">100</text>
<text transform="translate(690.45,96) scale(0.8633,1)" font-size="12.5" fill="#00ffff" text-anchor="start">90</text>
<text transform="translate(690.45,125) scale(0.8633,1)" font-size="12.5" fill="#00ffff" text-anchor="start">80</text>
<text transform="translate(690.45,154) scale(0.8633,1)" font-size="12.5" fill="#00ffff" text-anchor="start">70</text>
<text transform="translate(690.45,183) scale(0.8633,1)" font-size="12.5" fill="#00ffff" text-anchor="start">60</text>
<text transform="translate(690.45,212) scale(0.8633,1)" font-size="12.5" fill="#00ffff" text-anchor="start">50</text>
<text transform="translate(690.45,241) scale(0.8633,1)" font-size="12.5" fill="#00ffff" text-anchor="start">40</text>
<text transform="translate(690.45,270) scale(0.8633,1)" font-size="12.5" fill="#00ffff" text-anchor="start">30</text>
<text transform="translate(690.45,299) scale(0.8633,1)" font-size="12.5" fill="#00ffff" text-anchor="start">20</text>
<text transform="translate(690.45,328) scale(0.8633,1)" font-size="12.5" fill="#00ffff" text-anchor="start">10</text>
<text transform="translate(690.45,357) scale(0.8633,1)" font-size="12.5" fill="#00ffff" text-anchor="start">0</text>
<text transform="translate(727.45,67) scale(0.8633,1)" font-size="12.5" fill="#0000ff" text-anchor="start">5.0</text>
<text transform="translate(727.45,125) scale(0.8633,1)" font-size="12.5" fill="#0000ff" text-anchor="start">4.0</text>
<text transform="translate(727.45,183) scale(0.8633,1)" font-size="12.5" fill="#0000ff" text-anchor="start">3.0</text>
<text transform="translate(727.45,241) scale(0.8633,1)" font-size="12.5" fill="#0000ff" text-anchor="start">2.0</text>
<text transform="translate(727.45,299) scale(0.8633,1)" font-size="12.5" fill="#0000ff" text-anchor="start">1.0</text>
<text transform="translate(727.45,357) scale(0.8633,1)" font-size="12.5" fill="#0000ff" text-anchor="start">0.0</text>
<text transform="translate(764.45,91) scale(0.8633,1)" font-size="12.5" fill="#808080" text-anchor="start">330</text>
<text transform="translate(764.45,115) scale(0.8633,1)" font-size="12.5" fill="#808080" text-anchor="start">300</text>
<text transform="translate(764.45,164) scale(0.8633,1)" font-size="12.5" fill="#808080" text-anchor="start">240</text>
<text transform="translate(764.45,188) scale(0.8633,1)" font-size="12.5" fill="#808080" text-anchor="start">210</text>
<text transform="translate(764.45,236) scale(0.8633,1)" font-size="12.5" fill="#808080" text-anchor="start">150</text>
<text transform="translate(764.45,260) scale(0.8633,1)" font-size="12.5" fill="#808080" text-anchor="start">120</text>
<text transform="translate(764.45,309) scale(0.8633,1)" font-size="12.5" fill="#808080" text-anchor="start">60</text>
<text transform="translate(764.45,333) scale(0.8633,1)" font-size="12.5" fill="#808080" text-anchor="start">30</text>
<text transform="translate(764.45,357) scale(0.8633,1)" font-size="12.5" fill="#808080" text-anchor="start">0</text>
<text transform="translate(758.45,51) scale(0.8633,1)" font-size="12.5" fill="#808080" text-anchor="start">°</text>
<text transform="translate(10.45,382) scale(0.8633,1)" font-size="12.5" fill="#000" text-anchor="start">16:08</text>
<text x="8.45" y="403" font-size="12.3" fill="#000" text-anchor="start" font-weight="bold" textLength="39.2" lengthAdjust="spacingAndGlyphs">Sensor</text>
<text x="8.45" y="419" font-size="12.3" fill="#000" text-anchor="start" font-weight="bold" textLength="47.5" lengthAdjust="spacingAndGlyphs">MinWert</text>
<text x="8.45" y="435" font-size="12.3" fill="#000" text-anchor="start" font-weight="bold" textLength="50.3" lengthAdjust="spacingAndGlyphs">MaxWert</text>
<text x="8.45" y="451" font-size="12.3" fill="#000" text-anchor="start" font-weight="bold" textLength="72.4" lengthAdjust="spacingAndGlyphs">Durchschnitt</text>
<text x="8.45" y="467" font-size="12.3" fill="#000" text-anchor="start" font-weight="bold" textLength="72.0" lengthAdjust="spacingAndGlyphs">30.06. 23:55</text>
<text x="95.45" y="403" font-size="12.3" fill="#000" text-anchor="start" font-weight="bold" textLength="49.5" lengthAdjust="spacingAndGlyphs">Temp. A.</text>
<text x="198.45" y="403" font-size="12.3" fill="#000" text-anchor="end" font-weight="bold" textLength="13.2" lengthAdjust="spacingAndGlyphs">°C</text>
<text transform="translate(101.45,419) scale(0.8633,1)" font-size="12.5" fill="#000" text-anchor="start">05:40</text>
<text transform="translate(198.45,419) scale(0.8633,1)" font-size="12.5" fill="#000" text-anchor="end">11.5</text>
<text transform="translate(101.45,435) scale(0.8633,1)" font-size="12.5" fill="#000" text-anchor="start">16:15</text>
<text transform="translate(198.45,435) scale(0.8633,1)" font-size="12.5" fill="#000" text-anchor="end">32.4</text>
<text transform="translate(198.45,451) scale(0.8633,1)" font-size="12.5" fill="#000" text-anchor="end">20.32</text>
<text transform="translate(198.45,467) scale(0.93,1)" font-size="12.3" fill="#000" text-anchor="end" font-weight="bold">14.6</text>
<text x="212.45" y="403" font-size="12.3" fill="#000" text-anchor="start" font-weight="bold" textLength="61.7" lengthAdjust="spacingAndGlyphs">Feuchte A.</text>
<text transform="translate(218.45,419) scale(0.8633,1)" font-size="12.5" fill="#000" text-anchor="start">16:40</text>
<text transform="translate(316.45,419) scale(0.8633,1)" font-size="12.5" fill="#000" text-anchor="end">30</text>
<text transform="translate(218.45,435) scale(0.8633,1)" font-size="12.5" fill="#000" text-anchor="start">07:00</text>
<text transform="translate(316.45,435) scale(0.8633,1)" font-size="12.5" fill="#000" text-anchor="end">82</text>
<text transform="translate(316.45,451) scale(0.8633,1)" font-size="12.5" fill="#000" text-anchor="end">59</text>
<text transform="translate(316.45,467) scale(0.93,1)" font-size="12.3" fill="#000" text-anchor="end" font-weight="bold">65</text>
<text x="330.45" y="403" font-size="12.3" fill="#000" text-anchor="start" font-weight="bold" textLength="53.9" lengthAdjust="spacingAndGlyphs">Luftdruck</text>
<text x="434.45" y="403" font-size="12.3" fill="#000" text-anchor="end" font-weight="bold" textLength="22.3" lengthAdjust="spacingAndGlyphs">hPa</text>
<text transform="translate(336.45,419) scale(0.8633,1)" font-size="12.5" fill="#000" text-anchor="start">07:40</text>
<text transform="translate(434.45,419) scale(0.8633,1)" font-size="12.5" fill="#000" text-anchor="end">1009.8</text>
<text transform="translate(336.45,435) scale(0.8633,1)" font-size="12.5" fill="#000" text-anchor="start">12:20</text>
<text transform="translate(434.45,435) scale(0.8633,1)" font-size="12.5" fill="#000" text-anchor="end">1019.1</text>
<text transform="translate(434.45,451) scale(0.8633,1)" font-size="12.5" fill="#000" text-anchor="end">1015.1</text>
<text transform="translate(434.45,467) scale(0.93,1)" font-size="12.3" fill="#000" text-anchor="end" font-weight="bold">1017.6</text>
<text x="448.45" y="403" font-size="12.3" fill="#000" text-anchor="start" font-weight="bold" textLength="29.1" lengthAdjust="spacingAndGlyphs">Wind</text>
<text x="552.45" y="403" font-size="12.3" fill="#000" text-anchor="end" font-weight="bold" textLength="29.5" lengthAdjust="spacingAndGlyphs">km/h</text>
<text transform="translate(552.45,419) scale(0.8633,1)" font-size="12.5" fill="#000" text-anchor="end">2.6</text>
<text transform="translate(454.45,435) scale(0.8633,1)" font-size="12.5" fill="#000" text-anchor="start">18:45</text>
<text transform="translate(552.45,451) scale(0.8633,1)" font-size="12.5" fill="#000" text-anchor="end">1.7</text>
<text transform="translate(552.45,467) scale(0.93,1)" font-size="12.3" fill="#000" text-anchor="end" font-weight="bold">2.7</text>
<text x="566.45" y="403" font-size="12.3" fill="#000" text-anchor="start" font-weight="bold" textLength="57.1" lengthAdjust="spacingAndGlyphs">Windböen</text>
<text x="670.45" y="403" font-size="12.3" fill="#000" text-anchor="end" font-weight="bold" textLength="29.5" lengthAdjust="spacingAndGlyphs">km/h</text>
<text transform="translate(670.45,419) scale(0.8633,1)" font-size="12.5" fill="#000" text-anchor="end">2.3</text>
<text transform="translate(572.45,435) scale(0.8633,1)" font-size="12.5" fill="#000" text-anchor="start">18:15</text>
<text transform="translate(670.45,451) scale(0.8633,1)" font-size="12.5" fill="#000" text-anchor="end">2.6</text>
<text transform="translate(670.45,467) scale(0.93,1)" font-size="12.3" fill="#000" text-anchor="end" font-weight="bold">0.0</text>
<text x="684.45" y="403" font-size="12.3" fill="#000" text-anchor="start" font-weight="bold" textLength="36.6" lengthAdjust="spacingAndGlyphs">Regen</text>
<text x="788.45" y="403" font-size="12.3" fill="#000" text-anchor="end" font-weight="bold" textLength="22.4" lengthAdjust="spacingAndGlyphs">l/m²</text>
<text transform="translate(690.45,435) scale(0.8633,1)" font-size="12.5" fill="#000" text-anchor="start">00:00</text>
<text transform="translate(788.45,435) scale(0.8633,1)" font-size="12.5" fill="#000" text-anchor="end">0.0</text>
<text transform="translate(788.45,451) scale(0.8633,1)" font-size="12.5" fill="#000" text-anchor="end">0.0</text>
<text transform="translate(788.45,467) scale(0.93,1)" font-size="12.3" fill="#000" text-anchor="end" font-weight="bold">0.0</text></g>
<g filter="url(#crisp2)"><text transform="translate(317.5,21) scale(1.0,1)" font-size="16" fill="#000" text-anchor="start">Donnerstag, 30.06.2022</text></g>
<g filter="url(#crisp3)"><text x="138.45" y="42" font-size="12.5" fill="#ff0000" text-anchor="start" textLength="43.3" lengthAdjust="spacingAndGlyphs">Temp. A.</text>
<text x="233.45" y="42" font-size="12.5" fill="#00ffff" text-anchor="start" textLength="51.9" lengthAdjust="spacingAndGlyphs">Feuchte A.</text>
<text x="328.45" y="42" font-size="12.5" fill="#00ff00" text-anchor="start" textLength="44.9" lengthAdjust="spacingAndGlyphs">Luftdruck</text>
<text x="424.45" y="42" font-size="12.5" fill="#0000ff" text-anchor="start" textLength="31.9" lengthAdjust="spacingAndGlyphs">Regen</text>
<text x="518.45" y="42" font-size="12.5" fill="#000000" text-anchor="start" textLength="25.3" lengthAdjust="spacingAndGlyphs">Wind</text>
<text x="613.45" y="42" font-size="12.5" fill="#808080" text-anchor="start" textLength="43.5" lengthAdjust="spacingAndGlyphs">Richtung</text>
<text x="138.45" y="56" font-size="12.5" fill="#ff0000" text-anchor="start" textLength="46.6" lengthAdjust="spacingAndGlyphs">Taupunkt</text>
<text x="233.45" y="56" font-size="12.5" fill="#ff0000" text-anchor="start" textLength="42.9" lengthAdjust="spacingAndGlyphs">Windchill</text>
<text x="328.45" y="56" font-size="12.5" fill="#000000" text-anchor="start" textLength="49.9" lengthAdjust="spacingAndGlyphs">Windböen</text>
<text x="20.45" y="51" font-size="12.5" fill="#ff0000" text-anchor="start" textLength="11.9" lengthAdjust="spacingAndGlyphs">°C</text>
<text x="48.45" y="51" font-size="12.5" fill="#00ff00" text-anchor="start" textLength="19.2" lengthAdjust="spacingAndGlyphs">hPa</text>
<text x="79.45" y="51" font-size="12.5" fill="#000" text-anchor="start" textLength="25.2" lengthAdjust="spacingAndGlyphs">km/h</text>
<text x="721.45" y="51" font-size="12.5" fill="#0000ff" text-anchor="start" textLength="18.7" lengthAdjust="spacingAndGlyphs">l/m²</text>
<text transform="translate(764.45,67) scale(0.8633,1)" font-size="12.5" fill="#808080" text-anchor="start">360 N</text>
<text transform="translate(764.45,139) scale(0.8633,1)" font-size="12.5" fill="#808080" text-anchor="start">270 W</text>
<text transform="translate(764.45,212) scale(0.8633,1)" font-size="12.5" fill="#808080" text-anchor="start">180 S</text>
<text transform="translate(764.45,285) scale(0.8633,1)" font-size="12.5" fill="#808080" text-anchor="start">90 O</text>
<text transform="translate(782.45,357) scale(0.8633,1)" font-size="12.5" fill="#808080" text-anchor="start">N</text>
<text x="215.45" y="467" font-size="12.5" fill="#000" text-anchor="start" textLength="46.4" lengthAdjust="spacingAndGlyphs">8.14 g/m³</text>
<text x="330.45" y="451" font-size="12.5" fill="#000" text-anchor="start" textLength="51.4" lengthAdjust="spacingAndGlyphs">^2.9hPa/h</text>
<text x="330.45" y="467" font-size="12.5" fill="#000" text-anchor="start" textLength="37.1" lengthAdjust="spacingAndGlyphs">bewölkt</text>
<text x="448.45" y="419" font-size="12.5" fill="#000" text-anchor="start" textLength="44.4" lengthAdjust="spacingAndGlyphs">Ø 10 min.</text>
<text transform="translate(552.45,435) scale(0.8633,1)" font-size="12.5" fill="#000" text-anchor="end">S 6.6</text>
<text x="454.45" y="467" font-size="12.5" fill="#000" text-anchor="start" textLength="54.7" lengthAdjust="spacingAndGlyphs">1 Bft N-NW</text>
<text x="566.45" y="419" font-size="12.5" fill="#000" text-anchor="start" textLength="44.4" lengthAdjust="spacingAndGlyphs">Ø 10 min.</text>
<text x="670.45" y="435" font-size="12.5" fill="#000" text-anchor="end" textLength="49.0" lengthAdjust="spacingAndGlyphs">S-SO 21.6</text>
<text x="572.45" y="467" font-size="12.5" fill="#000" text-anchor="start" textLength="55.1" lengthAdjust="spacingAndGlyphs">0 Bft N-NW</text>
<text x="684.45" y="451" font-size="12.5" fill="#000" text-anchor="start" textLength="38.7" lengthAdjust="spacingAndGlyphs">Gesamt:</text>
<text x="687.45" y="467" font-size="12.5" fill="#000" text-anchor="start" textLength="35.7" lengthAdjust="spacingAndGlyphs">0.0 l/m²</text></g>
</svg>
</body></html>
